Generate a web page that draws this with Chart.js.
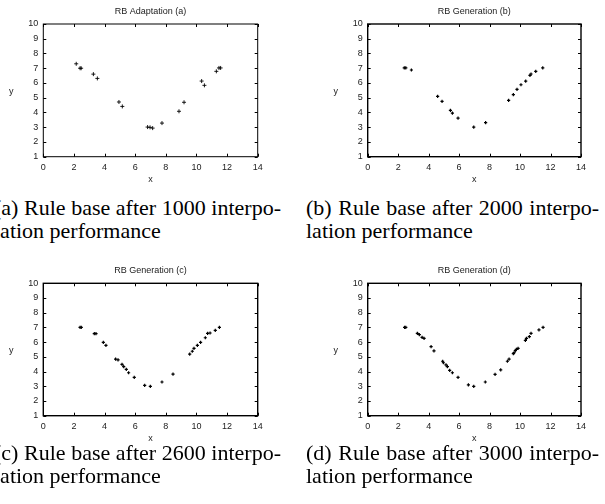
<!DOCTYPE html>
<html>
<head>
<meta charset="utf-8">
<script src="https://cdn.jsdelivr.net/npm/chart.js@4.4.1/dist/chart.umd.min.js"></script>
<style>
    html, body { margin: 0; padding: 0; background: #fff; }
    body { width: 605px; height: 504px; position: relative; overflow: hidden; }
    canvas { position: absolute; }
    .cap { position: absolute; font-family: "Liberation Serif", "Times New Roman", serif; font-size: 22px; line-height: 23px; color: #000; white-space: nowrap; }
    .cap .l1 { text-align: justify; text-align-last: justify; }
</style>
</head>
<body>
<canvas id="pa" width="300" height="195" style="left:0;top:0"></canvas>
<canvas id="pb" width="305" height="195" style="left:300px;top:0"></canvas>
<canvas id="pc" width="300" height="195" style="left:0;top:255px"></canvas>
<canvas id="pd" width="305" height="195" style="left:300px;top:255px"></canvas>
<div id="caps"></div>
<script>
/*eslint no-undef: 0*/

// axis ticks
const xTickValues = [0, 2, 4, 6, 8, 10, 12, 14];
const yTickValues = [1, 2, 3, 4, 5, 6, 7, 8, 9, 10];

const panelTitles = ['RB Adaptation (a)', 'RB Generation (b)', 'RB Generation (c)', 'RB Generation (d)'];

const captionLine1 = [
    '(a) Rule base after 1000 interpo-',
    '(b) Rule base after 2000 interpo-',
    '(c) Rule base after 2600 interpo-',
    '(d) Rule base after 3000 interpo-'
];
const captionLine2 = ['lation performance', 'lation performance', 'lation performance', 'lation performance'];

// rule base points [x, y]
const pointsA = [
    [2.15, 7.3], [2.4, 7.0], [2.47, 7.0], [3.27, 6.6], [3.53, 6.31],
    [4.94, 4.71], [5.16, 4.41], [6.81, 3.01], [6.97, 2.99], [7.14, 2.94],
    [7.75, 3.28], [8.86, 4.08], [9.19, 4.69], [10.34, 6.13], [10.52, 5.84],
    [11.3, 6.79], [11.47, 7.02], [11.58, 7.02]
];
const pointsB = [
    [2.4, 7.02], [2.5, 7.02], [2.87, 6.88], [4.59, 5.09], [4.88, 4.75],
    [5.43, 4.14], [5.56, 3.96], [5.93, 3.62], [6.96, 3.01], [7.74, 3.31],
    [9.25, 4.82], [9.56, 5.21], [9.8, 5.57], [10.06, 5.88], [10.37, 6.13],
    [10.65, 6.52], [10.72, 6.61], [11.03, 6.79], [11.49, 7.02]
];
const pointsC = [
    [2.4, 7.01], [2.48, 7.01], [3.33, 6.58], [3.44, 6.58], [3.92, 5.99],
    [4.09, 5.78], [4.72, 4.85], [4.88, 4.79], [5.14, 4.49], [5.25, 4.33],
    [5.42, 4.15], [5.57, 3.92], [5.94, 3.61], [6.62, 3.06], [6.99, 2.99],
    [7.75, 3.29], [8.47, 3.83], [9.56, 5.19], [9.73, 5.38], [9.84, 5.58],
    [10.06, 5.78], [10.27, 5.99], [10.58, 6.3], [10.73, 6.6], [10.89, 6.62],
    [11.23, 6.8], [11.5, 7.01]
];
const pointsD = [
    [2.42, 7.01], [2.5, 7.01], [3.26, 6.6], [3.39, 6.51], [3.57, 6.33],
    [3.7, 6.26], [4.16, 5.69], [4.35, 5.4], [4.92, 4.7], [4.97, 4.6],
    [5.14, 4.45], [5.23, 4.33], [5.38, 4.08], [5.56, 3.92], [5.93, 3.61],
    [6.61, 3.09], [6.96, 2.99], [7.72, 3.29], [8.36, 3.81], [8.73, 4.11],
    [9.17, 4.7], [9.28, 4.85], [9.56, 5.22], [9.61, 5.28], [9.69, 5.42],
    [9.76, 5.51], [9.87, 5.58], [10.35, 6.12], [10.42, 6.26], [10.61, 6.37],
    [10.72, 6.6], [11.24, 6.83], [11.51, 7.01]
];

// gnuplot style box with inward ticks on all four sides, plus title and axis labels
const gnuFrame = {
    id: 'gnuFrame',
    afterDraw: function (chart, args, opts) {
        const ctx = chart.ctx;
        const a = chart.chartArea;
        const sx = chart.scales.x;
        const sy = chart.scales.y;
        const len = 3;
        ctx.save();
        ctx.strokeStyle = '#000';
        ctx.lineWidth = 1;
        ctx.beginPath();
        sx.ticks.forEach(t => {
            const px = Math.round(sx.getPixelForValue(t.value)) + 0.5;
            ctx.moveTo(px, a.bottom); ctx.lineTo(px, a.bottom - len);
            ctx.moveTo(px, a.top); ctx.lineTo(px, a.top + len);
        });
        sy.ticks.forEach(t => {
            const py = Math.round(sy.getPixelForValue(t.value)) + 0.5;
            ctx.moveTo(a.left, py); ctx.lineTo(a.left + len, py);
            ctx.moveTo(a.right, py); ctx.lineTo(a.right - len, py);
        });
        ctx.stroke();
        ctx.lineWidth = opts.frameWidth;
        ctx.strokeRect(a.left, a.top, a.right - a.left, a.bottom - a.top);

        ctx.fillStyle = '#222';
        ctx.font = '9px "Liberation Sans", Arial, sans-serif';
        ctx.textAlign = 'center';
        ctx.textBaseline = 'middle';
        ctx.fillText(opts.title, (a.left + a.right) / 2, a.top - 12.5);
        ctx.fillText('x', (a.left + a.right) / 2, a.bottom + 23);
        ctx.fillText('y', a.left - 32, (a.top + a.bottom) / 2 + 1.5);
        ctx.restore();
    }
};

function makePanel(canvasId, points, title, box, markSize, markWidth, frameWidth) {
    const ctx = document.getElementById(canvasId).getContext('2d');
    const tickFont = { family: '"Liberation Sans", Arial, sans-serif', size: 9 };
    return new Chart(ctx, {
        type: 'scatter',
        data: {
            datasets: [{
                data: points.map(p => ({ x: p[0], y: p[1] })),
                pointStyle: 'cross',
                pointRadius: markSize,
                pointBorderWidth: markWidth,
                borderColor: '#000',
                backgroundColor: '#000'
            }]
        },
        options: {
            responsive: false,
            animation: false,
            events: [],
            layout: {
                padding: { left: 0, top: box.top, right: box.right, bottom: 0 }
            },
            plugins: {
                legend: { display: false },
                tooltip: { enabled: false },
                gnuFrame: { title: title, frameWidth: frameWidth }
            },
            scales: {
                x: {
                    type: 'linear',
                    min: 0,
                    max: 14,
                    afterBuildTicks: s => { s.ticks = xTickValues.map(v => ({ value: v })); },
                    afterFit: s => { s.height = box.xh; },
                    grid: { display: false, drawTicks: false },
                    border: { display: false },
                    ticks: { font: tickFont, color: '#222', padding: 5, maxRotation: 0, autoSkip: false }
                },
                y: {
                    type: 'linear',
                    min: 1,
                    max: 10,
                    afterBuildTicks: s => { s.ticks = yTickValues.map(v => ({ value: v })); },
                    afterFit: s => { s.width = box.yw; },
                    grid: { display: false, drawTicks: false },
                    border: { display: false },
                    ticks: { font: tickFont, color: '#222', padding: 5, autoSkip: false }
                }
            }
        },
        plugins: [gnuFrame]
    });
}

makePanel('pa', pointsA, panelTitles[0], { top: 24, right: 42.3, yw: 43.3, xh: 38.3 }, 2, 0.9, 1);
makePanel('pb', pointsB, panelTitles[1], { top: 24, right: 24, yw: 67.7, xh: 38.3 }, 1.6, 1.2, 1.4);
makePanel('pc', pointsC, panelTitles[2], { top: 28.3, right: 42.3, yw: 43.3, xh: 34.3 }, 1.6, 1.2, 1.4);
makePanel('pd', pointsD, panelTitles[3], { top: 28.3, right: 24, yw: 67.7, xh: 34.3 }, 1.6, 1.2, 1.4);

// sub-figure captions
const capBoxes = [
    { left: -6, top: 195.5, width: 287 },
    { left: 306, top: 195.5, width: 293 },
    { left: -6, top: 441, width: 287 },
    { left: 306, top: 441, width: 293 }
];
const caps = document.getElementById('caps');
for (let i = 0; i < captionLine1.length; i++) {
    const d = document.createElement('div');
    d.className = 'cap';
    d.style.left = capBoxes[i].left + 'px';
    d.style.top = capBoxes[i].top + 'px';
    const l1 = document.createElement('div');
    l1.className = 'l1';
    l1.style.width = capBoxes[i].width + 'px';
    l1.textContent = captionLine1[i];
    const l2 = document.createElement('div');
    l2.textContent = captionLine2[i];
    d.appendChild(l1);
    d.appendChild(l2);
    caps.appendChild(d);
}
</script>
</body>
</html>
